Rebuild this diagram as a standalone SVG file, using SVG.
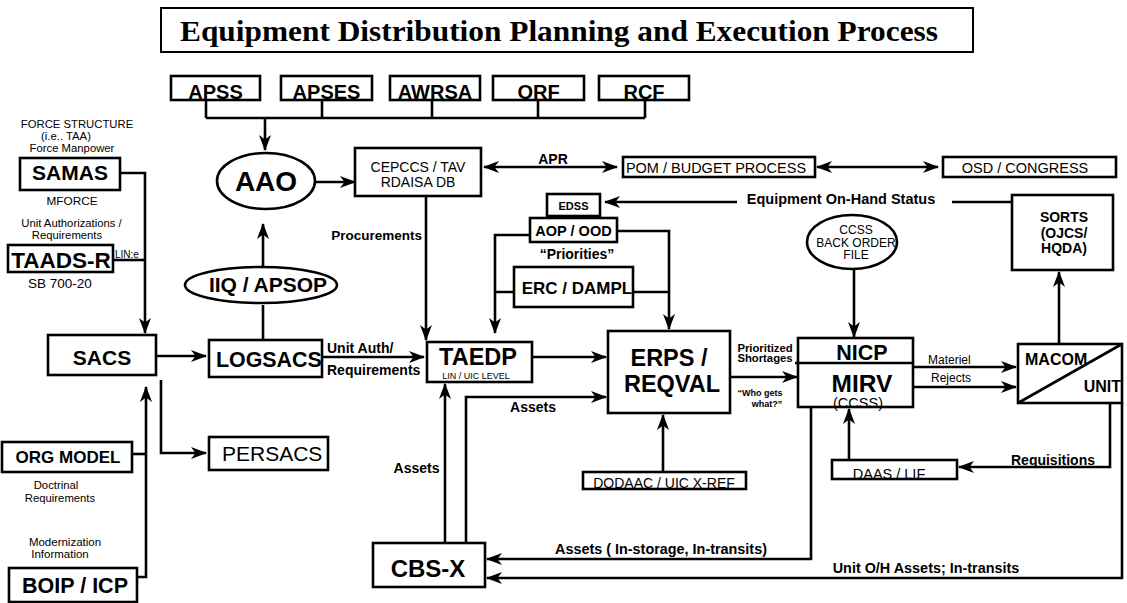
<svg xmlns="http://www.w3.org/2000/svg" width="1127" height="603" viewBox="0 0 1127 603">
<style>
.box{fill:#fff;stroke:#000;stroke-width:2.6}
.ln{fill:none;stroke:#000;stroke-width:2.6}
.arr{fill:none;stroke:#000;stroke-width:2.6;marker-end:url(#ah)}
.darr{fill:none;stroke:#000;stroke-width:2.6;marker-end:url(#ah);marker-start:url(#ahs)}
text{font-family:"Liberation Sans",Arial,sans-serif;fill:#000}
.b{font-weight:bold}
.c{text-anchor:middle}
.e{text-anchor:end}
.t{font-family:"Liberation Serif","Times New Roman",serif;font-weight:bold;font-size:30px}
</style>
<defs>
<marker id="ah" markerUnits="userSpaceOnUse" markerWidth="16" markerHeight="12" viewBox="0 0 16 12" refX="15" refY="6" orient="auto"><path d="M0,0 L16,6 L0,12 L4.5,6 z" fill="#000"/></marker>
<marker id="ahs" markerUnits="userSpaceOnUse" markerWidth="16" markerHeight="12" viewBox="0 0 16 12" refX="15" refY="6" orient="auto-start-reverse"><path d="M0,0 L16,6 L0,12 L4.5,6 z" fill="#000"/></marker>
</defs>
<rect width="1127" height="603" fill="#fff"/>

<g id="title">
<rect x="161" y="8" width="812" height="44" fill="#fff" stroke="#000" stroke-width="2"/>
<text class="t" x="180" y="41" textLength="758" lengthAdjust="spacingAndGlyphs">Equipment Distribution Planning and Execution Process</text>
</g>

<g id="connectors">
<path class="ln" d="M206,100 V118 M322,100 V118 M432,100 V118 M538,100 V118 M645,100 V118 M206,118 H645"/>
<path class="arr" d="M265,118 V150"/>
<path class="arr" d="M315,182 H355"/>
<path class="darr" d="M484,167 H617"/>
<path class="darr" d="M817,167 H938"/>
<path class="arr" d="M426,196 V340"/>
<path class="ln" d="M1012,202 H952"/>
<path class="arr" d="M737,202 H605"/>
<path class="arr" d="M530,235 H495 V333"/>
<path class="arr" d="M617,231 H669 V329"/>
<path class="ln" d="M514,292 H495 M633,292 H669"/>
<path class="arr" d="M263,267 V224"/>
<path class="ln" d="M263,305 V340"/>
<path class="arr" d="M120,173 H145 V333"/>
<path class="ln" d="M113,260 H145"/>
<path class="arr" d="M156,356 H206"/>
<path class="arr" d="M161,380 V453 H206"/>
<path class="ln" d="M132,454 H146"/>
<path class="arr" d="M137,577 H146 V387"/>
<path class="arr" d="M322,357 H424"/>
<path class="arr" d="M532,357 H606"/>
<path class="arr" d="M730,377 H797"/>
<path class="arr" d="M854,270 V337"/>
<path class="arr" d="M913,367 H1016"/>
<path class="arr" d="M913,387 H1016"/>
<path class="arr" d="M1059,344 V272"/>
<path class="arr" d="M1110,403 V467 H959"/>
<path class="arr" d="M849,460 V409"/>
<path class="arr" d="M663,472 V415"/>
<path class="arr" d="M445,543 V384"/>
<path class="arr" d="M466,543 V397 H606"/>
<path class="arr" d="M811,407 V559 H487"/>
<path class="arr" d="M1122,403 V578 H487"/>
</g>

<g id="apss"><rect class="box" x="171" y="76" width="89" height="24"/><text class="b c" x="215.5" y="99" font-size="20">APSS</text></g>
<g id="apses"><rect class="box" x="281" y="76" width="91" height="24"/><text class="b c" x="326.5" y="99" font-size="20">APSES</text></g>
<g id="awrsa"><rect class="box" x="390" y="76" width="90" height="24"/><text class="b c" x="435" y="99" font-size="20">AWRSA</text></g>
<g id="orf"><rect class="box" x="493" y="76" width="91" height="24"/><text class="b c" x="538.5" y="99" font-size="20">ORF</text></g>
<g id="rcf"><rect class="box" x="599" y="76" width="90" height="24"/><text class="b c" x="644" y="99" font-size="20">RCF</text></g>

<g id="aao"><ellipse class="box" cx="266" cy="181" rx="49" ry="28"/><text class="b c" x="266" y="191" font-size="28">AAO</text></g>
<g id="cepccs"><rect class="box" x="355" y="148" width="126" height="48"/><text class="c" x="418" y="172" font-size="14">CEPCCS / TAV</text><text class="c" x="418" y="187" font-size="14">RDAISA DB</text></g>
<g id="apr"><text class="b c" x="553" y="164" font-size="14">APR</text></g>
<g id="pom"><rect class="box" x="623" y="157" width="192" height="20"/><text class="c" x="716" y="173" font-size="14.5">POM / BUDGET PROCESS</text></g>
<g id="osd"><rect class="box" x="943" y="157" width="173" height="20"/><text class="c" x="1025" y="173" font-size="14.5">OSD / CONGRESS</text></g>
<g id="eohs"><text class="b c" x="841" y="204" font-size="14.5">Equipment On-Hand Status</text></g>
<g id="procurements"><text class="b e" x="422" y="240" font-size="13.5">Procurements</text></g>

<g id="edss"><rect class="box" x="547" y="194" width="53" height="22"/><text class="b c" x="573.5" y="210" font-size="11">EDSS</text></g>
<g id="aop"><rect class="box" x="530" y="218" width="87" height="24"/><text class="b c" x="573.5" y="236" font-size="14.5">AOP / OOD</text></g>
<g id="priorities"><text class="b c" x="577" y="259" font-size="14">“Priorities”</text></g>
<g id="erc"><rect class="box" x="514" y="267" width="119" height="40"/><text class="b c" x="577" y="294" font-size="17">ERC / DAMPL</text></g>

<g id="samas-labels">
<text class="c" x="77" y="128" font-size="11.3">FORCE STRUCTURE</text>
<text class="c" x="66" y="140" font-size="11.3">(i.e.. TAA)</text>
<text class="c" x="72" y="152" font-size="11.3">Force Manpower</text>
<text class="c" x="72" y="205" font-size="11.8">MFORCE</text>
<text class="c" x="71.5" y="227" font-size="11.3">Unit Authorizations /</text>
<text class="c" x="67" y="239" font-size="11.3">Requirements</text>
<text x="28" y="288" font-size="13.5">SB 700-20</text>
<text x="115" y="258" font-size="10">LIN:e</text>
</g>
<g id="samas"><rect class="box" x="20" y="158" width="100" height="32"/><text class="b c" x="70" y="180" font-size="21">SAMAS</text></g>
<g id="taads"><rect class="box" x="8" y="245" width="105" height="27"/><text class="b c" x="61" y="268" font-size="22.5">TAADS-R</text></g>
<g id="iiq"><ellipse class="box" cx="261" cy="285" rx="76" ry="18"/><text class="b c" x="268" y="292" font-size="21">IIQ / APSOP</text></g>

<g id="sacs"><rect class="box" x="48" y="335" width="108" height="40"/><text class="b c" x="102" y="365" font-size="21">SACS</text></g>
<g id="logsacs"><rect class="box" x="209" y="340" width="113" height="37"/><text class="b" x="216" y="367" font-size="21.4">LOGSACS</text></g>
<g id="persacs"><rect class="box" x="209" y="437" width="119" height="33"/><text x="222" y="461" font-size="21">PERSACS</text></g>
<g id="orgmodel"><rect class="box" x="2" y="442" width="130" height="30"/><text class="b c" x="68" y="463" font-size="17">ORG MODEL</text></g>
<g id="orglabels">
<text class="c" x="56" y="489" font-size="11.3">Doctrinal</text>
<text class="c" x="60" y="502" font-size="11.3">Requirements</text>
<text class="c" x="65" y="546" font-size="11.5">Modernization</text>
<text class="c" x="60" y="558" font-size="11.5">Information</text>
</g>
<g id="boip"><rect class="box" x="9" y="568" width="128" height="34"/><text class="b c" x="75" y="593" font-size="21.5">BOIP / ICP</text></g>

<g id="unitauth"><text class="b" x="327" y="353" font-size="14">Unit Auth/</text><text class="b" x="327" y="375" font-size="14">Requirements</text></g>
<g id="taedp"><rect class="box" x="427" y="342" width="105" height="40"/><text class="b c" x="478" y="365" font-size="23.5">TAEDP</text><text class="c" x="476" y="379" font-size="9">LIN / UIC LEVEL</text></g>
<g id="erps"><rect class="box" x="608" y="331" width="122" height="82"/><text class="b c" x="669" y="366" font-size="23.5">ERPS /</text><text class="b c" x="672" y="392" font-size="23.5">REQVAL</text></g>
<g id="shortlabels">
<text class="b c" x="765" y="351.5" font-size="11.3">Prioritized</text>
<text class="b c" x="765" y="362" font-size="11.3">Shortages</text>
<text class="b c" x="760" y="396" font-size="9">“Who gets</text>
<text class="b c" x="767" y="406.5" font-size="9">what?”</text>
</g>
<g id="ccss"><ellipse class="box" cx="852" cy="242" rx="45" ry="27"/><text class="c" x="856" y="234" font-size="12">CCSS</text><text class="c" x="856" y="247" font-size="12">BACK ORDER</text><text class="c" x="856" y="259" font-size="12">FILE</text></g>
<g id="nicp"><rect class="box" x="798" y="338" width="115" height="69"/><path class="ln" d="M795,363 H913"/><text class="b c" x="862" y="360" font-size="21.5">NICP</text><text class="b c" x="862" y="392" font-size="24.5">MIRV</text><text class="c" x="858" y="408" font-size="14.5">(CCSS)</text></g>
<g id="matlabels"><text x="928" y="364" font-size="12">Materiel</text><text x="931" y="382" font-size="12">Rejects</text></g>
<g id="macom"><rect class="box" x="1018" y="344" width="104" height="59"/><path class="ln" d="M1018,403 L1122,344"/><text class="b" x="1025" y="365" font-size="16">MACOM</text><text class="b e" x="1121" y="392" font-size="16">UNIT</text></g>
<g id="sorts"><rect class="box" x="1012" y="195" width="101" height="75"/><text class="b c" x="1064" y="222" font-size="14">SORTS</text><text class="b c" x="1064" y="238" font-size="14">(OJCS/</text><text class="b c" x="1064" y="253" font-size="14">HQDA)</text></g>
<g id="daas"><rect class="box" x="832" y="460" width="125" height="19"/><text class="c" x="889" y="479" font-size="14.5">DAAS / LIF</text></g>
<g id="reqlabel"><text class="b c" x="1053" y="465" font-size="14">Requisitions</text></g>
<g id="dodaac"><rect class="box" x="583" y="472" width="163" height="17"/><text class="c" x="664" y="488" font-size="14">DODAAC / UIC X-REF</text></g>
<g id="assetlabels">
<text class="b c" x="533" y="412" font-size="14">Assets</text>
<text class="b c" x="416.5" y="473" font-size="14">Assets</text>
<text class="b c" x="661" y="554" font-size="14.4">Assets ( In-storage, In-transits)</text>
<text class="b c" x="926" y="573" font-size="14.4">Unit O/H Assets; In-transits</text>
</g>
<g id="cbsx"><rect class="box" x="373" y="543" width="112" height="44"/><text class="b c" x="428" y="577" font-size="24">CBS-X</text></g>
</svg>
